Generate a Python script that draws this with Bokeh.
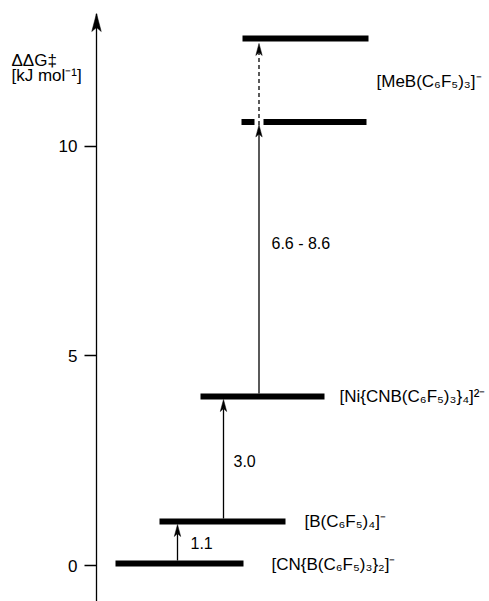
from bokeh.plotting import figure
from bokeh.models import Range1d, FixedTicker, ColumnDataSource
from bokeh.embed import file_html
from bokeh.resources import INLINE
from bokeh.core.properties import value

# ---------------- data ----------------
levels = [0.05, 1.05, 4.03, 10.58, 12.57]          # ΔΔG‡ levels (kJ/mol)
level_names = ["[CN{B(C₆F₅)₃}₂]⁻", "[B(C₆F₅)₄]⁻",
               "[Ni{CNB(C₆F₅)₃}₄]²⁻", "[MeB(C₆F₅)₃]⁻"]
step_labels = ["1.1", "3.0", "6.6 - 8.6"]
y_ticks = [0, 5, 10]
y_title = ["ΔΔG‡", "[kJ mol⁻¹]"]

# ---------------- layout ----------------
W, H = 489, 601
AXIS_PX = 96          # axis position in figure pixels
TOP = 13              # frame top in figure pixels
PPU = 41.93           # pixels per kJ/mol
Y0 = 565              # figure pixel of y = 0
y_end = (Y0 - TOP) / PPU
y_start = -(H - Y0) / PPU
FONT = value("Liberation Sans")

p = figure(width=W, height=H, output_backend="svg", toolbar_location=None,
           x_range=Range1d(-AXIS_PX, W - AXIS_PX), y_range=Range1d(y_start, y_end),
           x_axis_location=None, y_axis_location="left",
           min_border_left=0, min_border_right=0, min_border_top=TOP, min_border_bottom=0)
p.outline_line_color = None
p.grid.visible = False
p.background_fill_color = "white"
p.border_fill_color = "white"

ax = p.yaxis[0]
ax.fixed_location = 0
ax.ticker = FixedTicker(ticks=y_ticks)
ax.major_tick_out = 12
ax.major_tick_in = 0
ax.minor_tick_out = 0
ax.minor_tick_in = 0
ax.major_label_standoff = 7
ax.axis_line_width = 1.3
ax.major_tick_line_width = 1.3
ax.axis_line_color = "black"
ax.major_tick_line_color = "black"
ax.major_label_text_font = "Liberation Sans"
ax.major_label_text_font_size = "17px"
ax.major_label_text_color = "black"

# axis arrow head
hl, hw, hn = 18 / PPU, 4.75, 14 / PPU
p.patch([0, hw, 0, -hw], [y_end, y_end - hl, y_end - hn, y_end - hl],
        fill_color="black", line_color="black", line_width=0.5)

# energy level bars (x spans are layout)
bar_x0 = [19, 63, 104, 146]
bar_x1 = [147, 189, 228, 272]
gap = (158, 167)   # gap in the lower MeB bar
bx0, bx1, by = [], [], []
for i, (a, b) in enumerate(zip(bar_x0, bar_x1)):
    if i < 3:
        bx0.append(a); bx1.append(b); by.append(levels[i])
bx0 += [145, gap[1], 146]
bx1 += [gap[0], 270, 272]
by += [levels[3], levels[3], levels[4]]
p.segment(x0=bx0, y0=by, x1=bx1, y1=by, line_width=6, line_color="black", line_cap="butt")

# arrows
half = 3 / PPU
arrow_x = [81, 127, 162.5, 162.5]
a_start = [levels[0] + half, levels[1] + half, levels[2] + half, levels[3] - half]
a_end = [levels[1] - half, levels[2] - half, levels[3] - half, levels[4] - half - 2 / PPU]
a_dash = ["solid", "solid", "solid", "4 3"]
ahl, ahw, ahn = 12 / PPU, 3.2, 9 / PPU
for x, s, e, d in zip(arrow_x, a_start, a_end, a_dash):
    p.line([x, x], [s, e - ahn], line_width=1.3, line_color="black", line_dash=d)
    p.patch([x, x + ahw, x, x - ahw], [e, e - ahl, e - ahn, e - ahl],
            fill_color="black", line_color="black", line_width=0.5)

# step labels
step_src = ColumnDataSource(dict(x=[94, 137, 175], y=[0.53, 2.50, 7.68], t=step_labels))
p.text(x="x", y="y", text="t", source=step_src, text_font=FONT, text_font_size="16px",
       text_baseline="middle", text_align="left", text_color="black")

# species labels
name_src = ColumnDataSource(dict(x=[175, 208, 243, 280], y=[0.03, 1.05, 4.02, 11.55], t=level_names))
p.text(x="x", y="y", text="t", source=name_src, text_font=FONT, text_font_size="17px",
       text_baseline="middle", text_align="left", text_color="black")

# axis title
title_src = ColumnDataSource(dict(x=[-85, -85], y=[12.04, 11.69], t=y_title))
p.text(x="x", y="y", text="t", source=title_src, text_font=FONT, text_font_size="17px",
       text_baseline="middle", text_align="left", text_color="black")

open("out.html", "w").write(file_html(p, INLINE))
